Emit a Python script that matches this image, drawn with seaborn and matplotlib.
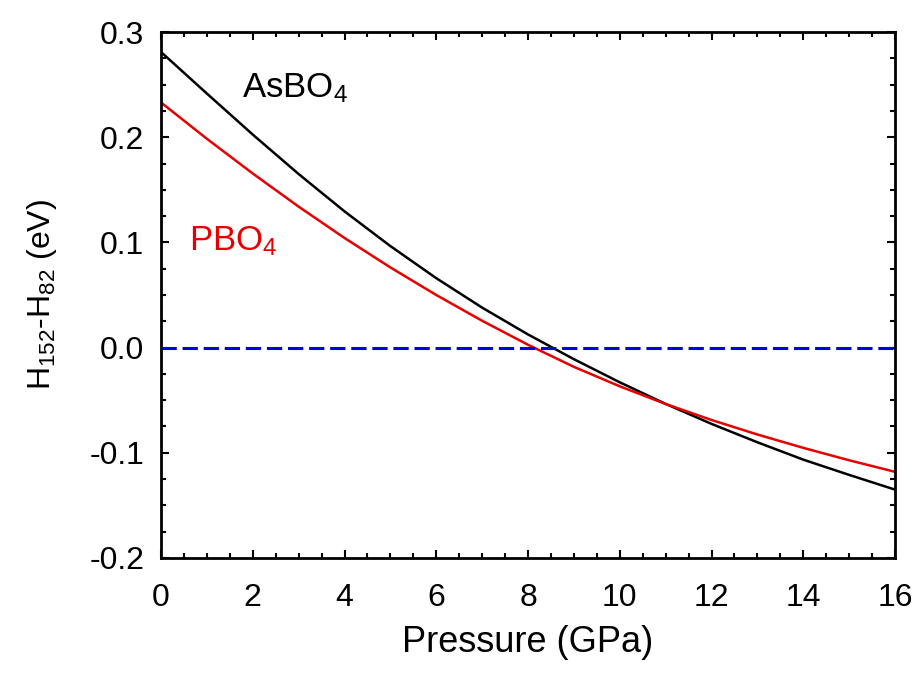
import matplotlib
matplotlib.use("Agg")
import matplotlib.pyplot as plt
import numpy as np
import pandas as pd
import seaborn as sns
from matplotlib.ticker import MultipleLocator, FormatStrFormatter

# Enthalpy difference between the two structures versus pressure
pressure = [0, 1, 2, 3, 4, 5, 6, 7, 8, 9, 10, 11, 12, 13, 14, 15, 16]
asbo4 = [0.281, 0.2415, 0.2025, 0.165, 0.1295, 0.0965, 0.066, 0.038, 0.0125,
         -0.011, -0.033, -0.0535, -0.0725, -0.090, -0.1065, -0.121, -0.135]
pbo4 = [0.233, 0.1985, 0.1655, 0.134, 0.1042, 0.0762, 0.050, 0.0255, 0.0027,
        -0.0183, -0.0368, -0.0536, -0.0688, -0.0826, -0.0953, -0.1071, -0.1181]
compounds = ["AsBO4", "PBO4"]
colors = {"AsBO4": "#000000", "PBO4": "#e60000"}
x_ticks = [0, 2, 4, 6, 8, 10, 12, 14, 16]
y_ticks = [-0.2, -0.1, 0.0, 0.1, 0.2, 0.3]

sns.set_theme(style="ticks")
plt.rcParams["font.family"] = ["Liberation Sans", "DejaVu Sans"]
plt.rcParams["mathtext.fontset"] = "custom"
plt.rcParams["mathtext.rm"] = "Liberation Sans"
plt.rcParams["mathtext.it"] = "Liberation Sans:italic"
plt.rcParams["mathtext.bf"] = "Liberation Sans:bold"
plt.rcParams["axes.unicode_minus"] = False

df = pd.DataFrame({
    "Pressure": pressure * 2,
    "dH": asbo4 + pbo4,
    "compound": [compounds[0]] * len(pressure) + [compounds[1]] * len(pressure),
})

fig = plt.figure(figsize=(9.17, 6.77), dpi=100)
ax = fig.add_axes([0.1756, 0.1758, 0.8004, 0.7769])

sns.lineplot(data=df, x="Pressure", y="dH", hue="compound", palette=colors,
             linewidth=1.8, legend=False, estimator=None, sort=False, ax=ax)
ax.axhline(0.0, color="#0000e6", linewidth=2.2, dashes=(5, 1.9), zorder=3)

ax.set_xlim(0, 16)
ax.set_ylim(-0.2, 0.3)
ax.set_xticks(x_ticks)
ax.set_yticks(y_ticks)
ax.xaxis.set_minor_locator(MultipleLocator(0.5))
ax.yaxis.set_minor_locator(MultipleLocator(0.025))
ax.yaxis.set_major_formatter(FormatStrFormatter("%.1f"))

ax.tick_params(which="both", direction="in", top=True, right=True,
               width=1.5, color="black")
ax.tick_params(which="major", length=5.5, labelsize=23, labelcolor="black")
ax.tick_params(which="minor", length=3.5)
ax.tick_params(axis="x", which="major", pad=18)
ax.tick_params(axis="y", which="major", pad=12)

for side in ["left", "right", "top", "bottom"]:
    ax.spines[side].set_linewidth(2.0)
    ax.spines[side].set_color("black")

ax.set_xlabel("Pressure (GPa)", fontsize=26, color="black", labelpad=9)
ax.set_ylabel(r"H$_{152}$-H$_{82}$ (eV)", fontsize=23, color="black", labelpad=22)

ax.text(1.76, 0.238, r"AsBO$_4$", fontsize=25, color=colors["AsBO4"], va="baseline")
ax.text(0.6, 0.0926, r"PBO$_4$", fontsize=25, color=colors["PBO4"], va="baseline")

fig.savefig("out.png", dpi=100)
